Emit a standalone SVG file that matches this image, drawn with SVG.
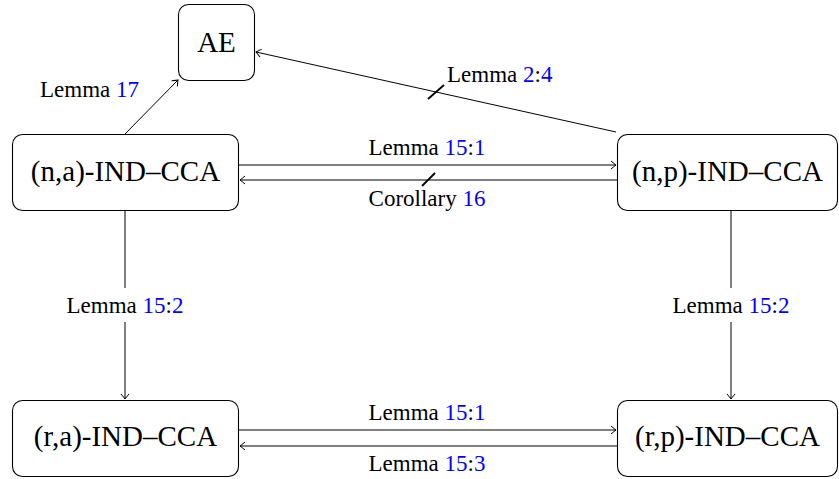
<svg xmlns="http://www.w3.org/2000/svg" width="839" height="479" viewBox="0 0 839 479">
  <style>
    .box { fill: #fff; stroke: #000; stroke-width: 1.1; }
    .node { font-family: "Liberation Serif", "Times New Roman", serif; font-size: 29px; fill: #000; text-anchor: middle; }
    .lbl { font-family: "Liberation Serif", "Times New Roman", serif; font-size: 23px; fill: #000; }
    .ref { fill: #0000ff; }
    .edge { stroke: #000; stroke-width: 1; fill: none; marker-end: url(#to); }
    .tick { stroke: #000; stroke-width: 1.8; }
  </style>
  <defs>
    <marker id="to" viewBox="-6 -5 7 10" markerWidth="7" markerHeight="10" refX="0" refY="0" orient="auto" markerUnits="userSpaceOnUse">
      <path d="M -5 -4 Q -1.5 -1 0 0 Q -1.5 1 -5 4" fill="none" stroke="#000" stroke-width="1"/>
    </marker>
  </defs>
  <rect width="839" height="479" fill="#fff"/>

  <!-- connectors -->
  <g id="connectors">
    <line class="edge" x1="125" y1="134" x2="178" y2="80"/>
    <line class="edge" x1="616" y1="132" x2="256" y2="52"/>
    <line class="tick" x1="428" y1="99" x2="444" y2="85"/>
    <line class="edge" x1="239" y1="165" x2="616" y2="165"/>
    <line class="edge" x1="617" y1="180" x2="240" y2="180"/>
    <line class="tick" x1="422" y1="186" x2="435" y2="173"/>
    <line class="edge" x1="125" y1="210" x2="125" y2="399"/>
    <line class="edge" x1="731" y1="210" x2="731" y2="399"/>
    <line class="edge" x1="239" y1="430" x2="616" y2="430"/>
    <line class="edge" x1="617" y1="446" x2="240" y2="446"/>
    <!-- label backgrounds on vertical edges -->
    <rect x="62" y="288" width="126" height="34" fill="#fff"/>
    <rect x="668" y="288" width="126" height="34" fill="#fff"/>
  </g>

  <!-- edge labels -->
  <g id="labels">
    <text class="lbl" x="139" y="97" text-anchor="end">Lemma <tspan class="ref">17</tspan></text>
    <text class="lbl" x="447" y="82">Lemma <tspan class="ref">2</tspan>:<tspan class="ref">4</tspan></text>
    <text class="lbl" x="427" y="155" text-anchor="middle">Lemma <tspan class="ref">15</tspan>:<tspan class="ref">1</tspan></text>
    <text class="lbl" x="427" y="206" text-anchor="middle">Corollary <tspan class="ref">16</tspan></text>
    <text class="lbl" x="125" y="313" text-anchor="middle">Lemma <tspan class="ref">15</tspan>:<tspan class="ref">2</tspan></text>
    <text class="lbl" x="731" y="313" text-anchor="middle">Lemma <tspan class="ref">15</tspan>:<tspan class="ref">2</tspan></text>
    <text class="lbl" x="427" y="420" text-anchor="middle">Lemma <tspan class="ref">15</tspan>:<tspan class="ref">1</tspan></text>
    <text class="lbl" x="427" y="471" text-anchor="middle">Lemma <tspan class="ref">15</tspan>:<tspan class="ref">3</tspan></text>
  </g>

  <!-- nodes -->
  <g id="ae">
    <rect class="box" x="178.5" y="4.5" width="76" height="76" rx="10"/>
    <text class="node" x="216.5" y="52">AE</text>
  </g>
  <g id="na">
    <rect class="box" x="12.5" y="134.5" width="226" height="76" rx="10"/>
    <text class="node" x="125.5" y="181">(n,a)-IND–CCA</text>
  </g>
  <g id="np">
    <rect class="box" x="617.5" y="134.5" width="220" height="76" rx="10"/>
    <text class="node" x="727.5" y="181">(n,p)-IND–CCA</text>
  </g>
  <g id="ra">
    <rect class="box" x="12.5" y="400.5" width="226" height="76" rx="10"/>
    <text class="node" x="125.5" y="446">(r,a)-IND–CCA</text>
  </g>
  <g id="rp">
    <rect class="box" x="617.5" y="400.5" width="220" height="76" rx="10"/>
    <text class="node" x="727.5" y="446">(r,p)-IND–CCA</text>
  </g>
</svg>
